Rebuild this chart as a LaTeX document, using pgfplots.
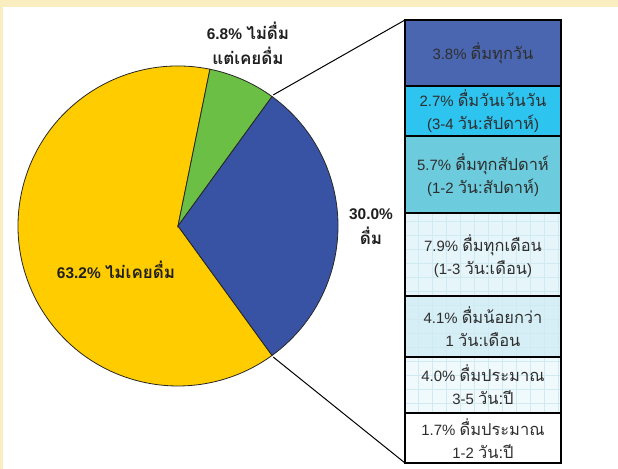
\documentclass[border=0pt]{standalone}
\usepackage{pgfplots}
\pgfplotsset{compat=1.18}
\usepackage{pgfplotstable}
\usepackage{fontspec}
\setmainfont{Liberation Sans}
\newfontfamily\thaifont[Script=Thai, Scale=1.1]{Loma}
\definecolor{cream}{HTML}{FAEEC0}
\definecolor{pieblue}{HTML}{3953A4}
\definecolor{piegreen}{HTML}{6BBF45}
\definecolor{pieyellow}{HTML}{FFCC00}
\definecolor{bA}{HTML}{4A66B0}
\definecolor{bB}{HTML}{2EC4F0}
\definecolor{bC}{HTML}{6CCBDC}
\definecolor{bD}{HTML}{E6F5FA}
\definecolor{bE}{HTML}{D6EEF5}
\definecolor{bF}{HTML}{F0F9FC}
\definecolor{bG}{HTML}{FFFFFF}
\definecolor{gridc}{HTML}{CFEAF1}
\definecolor{txt}{HTML}{2E2E2E}
% pie shares (percent)
\def\pBlue{30.0}\def\pGreen{6.8}\def\pYellow{63.2}
\pgfmathsetmacro\aA{-54}
\pgfmathsetmacro\aB{\aA+3.6*\pBlue}
\pgfmathsetmacro\aC{\aB+3.6*\pGreen}
\pgfmathsetmacro\aD{\aC+3.6*\pYellow}
\begin{document}
\begin{tikzpicture}[x=1bp,y=1bp]
\fill[cream] (0,0) rectangle (618,469);
\fill[white] (3,0) rectangle (618,462);
\begin{axis}[at={(0,0)}, anchor=south west, scale only axis, width=618bp, height=469bp,
  xmin=0, xmax=618, ymin=-6, ymax=463, hide axis, clip=false,
  ybar stacked, bar width=156]
% drawn box heights (not proportional in the original)
\addplot[fill=bG, draw=black, line width=1.1pt] coordinates {(483,50)};
\addplot[fill=bF, draw=black, line width=1.1pt] coordinates {(483,56)};
\addplot[fill=bE, draw=black, line width=1.1pt] coordinates {(483,61)};
\addplot[fill=bD, draw=black, line width=1.1pt] coordinates {(483,83)};
\addplot[fill=bC, draw=black, line width=1.1pt] coordinates {(483,77)};
\addplot[fill=bB, draw=black, line width=1.1pt] coordinates {(483,50)};
\addplot[fill=bA, draw=black, line width=1.1pt] coordinates {(483,66)};
% pie
\draw[fill=pieblue, draw=black!85, line width=0.8pt] (axis cs:178,237) -- ++(\aA:160bp) arc[start angle=\aA, end angle=\aB, radius=160bp] -- cycle;
\draw[fill=piegreen, draw=black!85, line width=0.8pt] (axis cs:178,237) -- ++(\aB:160bp) arc[start angle=\aB, end angle=\aC, radius=160bp] -- cycle;
\draw[fill=pieyellow, draw=black!85, line width=0.8pt] (axis cs:178,237) -- ++(\aC:160bp) arc[start angle=\aC, end angle=\aD, radius=160bp] -- cycle;
% connectors
\draw[line width=1pt] (axis cs:178,237) ++(\aB:162bp) -- (axis cs:405,443);
\draw[line width=1pt] (axis cs:178,237) ++(\aA:162bp) -- (axis cs:405,0);
\end{axis}
% grid texture on the light boxes (tikz coords: y = axis y + 6)
\foreach \gx in {418,432,...,560} {\draw[gridc, line width=0.4pt] (\gx,57) -- (\gx,255);}
\foreach \gy in {66,80,...,255} {\draw[gridc, line width=0.4pt] (406,\gy) -- (560,\gy);}
\draw[line width=1.1pt] (405,56) -- (561,56);
\draw[line width=1.1pt] (405,112) -- (561,112);
\draw[line width=1.1pt] (405,173) -- (561,173);
\draw[line width=1.1pt] (405,256) -- (561,256);
\draw[line width=1.1pt] (405,6) rectangle (561,449);
% pie labels
\begin{scope}[every node/.style={font=\fontsize{15.5}{25}\selectfont\bfseries, text=black!88, align=center, inner sep=0pt}]
\node at (248,426) {6.8\% {\thaifont\bfseries ไม่ดื่ม}\\{\thaifont\bfseries แต่เคยดื่ม}};
\node at (371,242) {30.0\%\\{\thaifont\bfseries ดื่ม}};
\node at (116,199) {63.2\% {\thaifont\bfseries ไม่เคยดื่ม}};
\end{scope}
% box labels
\begin{scope}[every node/.style={font=\fontsize{15}{23}\selectfont, text=txt, align=center, inner sep=0pt}]
\node at (483,416) {3.8\% {\thaifont ดื่มทุกวัน}};
\node at (483,358) {2.7\% {\thaifont ดื่มวันเว้นวัน}\\(3-4 {\thaifont วัน:สัปดาห์})};
\node at (483,294) {5.7\% {\thaifont ดื่มทุกสัปดาห์}\\(1-2 {\thaifont วัน:สัปดาห์})};
\node at (483,213) {7.9\% {\thaifont ดื่มทุกเดือน}\\(1-3 {\thaifont วัน:เดือน})};
\node at (483,142) {4.1\% {\thaifont ดื่มน้อยกว่า}\\1 {\thaifont วัน:เดือน}};
\node at (483,84) {4.0\% {\thaifont ดื่มประมาณ}\\3-5 {\thaifont วัน:ปี}};
\node at (483,30) {1.7\% {\thaifont ดื่มประมาณ}\\1-2 {\thaifont วัน:ปี}};
\end{scope}
\end{tikzpicture}
\end{document}
